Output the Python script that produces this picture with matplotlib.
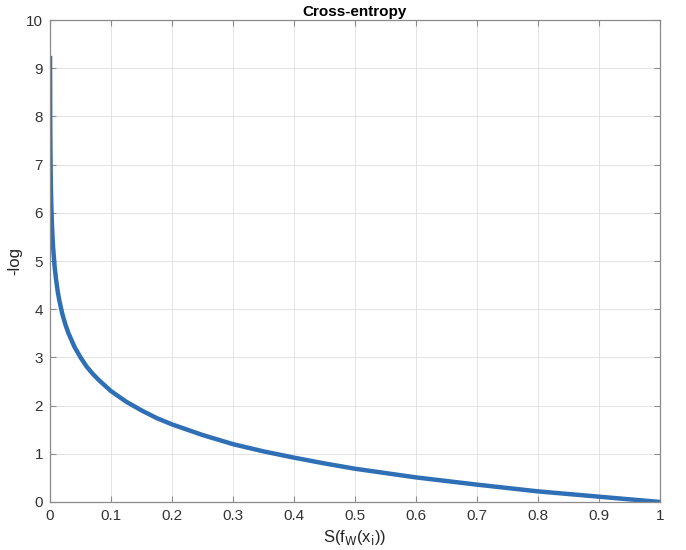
import matplotlib.pyplot as plt

plt.rcParams["font.family"] = ["Liberation Sans", "DejaVu Sans"]

# points
s_vals = [0.0001, 0.0003, 0.0005, 0.001, 0.0015, 0.002, 0.003, 0.004, 0.005,
          0.0075, 0.01, 0.0125, 0.015, 0.02, 0.025, 0.03, 0.04, 0.05, 0.06,
          0.07, 0.08, 0.1, 0.125, 0.15, 0.175, 0.2, 0.25, 0.3, 0.35, 0.4,
          0.45, 0.5, 0.6, 0.7, 0.8, 0.9, 1.0]
loss_vals = [9.21, 8.11, 7.60, 6.91, 6.50, 6.21, 5.81, 5.52, 5.30,
             4.89, 4.61, 4.38, 4.20, 3.91, 3.69, 3.51, 3.22, 3.00, 2.81,
             2.66, 2.53, 2.30, 2.08, 1.90, 1.74, 1.61, 1.39, 1.20, 1.05, 0.92,
             0.80, 0.69, 0.51, 0.36, 0.22, 0.11, 0.0]
x_ticks = [0, 0.1, 0.2, 0.3, 0.4, 0.5, 0.6, 0.7, 0.8, 0.9, 1]
x_ticklabels = ["0", "0.1", "0.2", "0.3", "0.4", "0.5", "0.6", "0.7", "0.8", "0.9", "1"]
y_ticks = list(range(0, 11))

fig = plt.figure(figsize=(6.86, 5.5), dpi=100)
ax = fig.add_axes([0.0729, 0.0873, 0.8892, 0.8763])

ax.plot(s_vals, loss_vals, color="#2f6fb5", linewidth=3.2, solid_capstyle="projecting")

ax.set_xlim(0, 1)
ax.set_ylim(0, 10)
ax.set_xticks(x_ticks)
ax.set_xticklabels(x_ticklabels)
ax.set_yticks(y_ticks)
ax.grid(True, color="#e3e3e3", linewidth=0.7)
ax.set_axisbelow(True)
for sp in ax.spines.values():
    sp.set_color("#8a8a8a")
    sp.set_linewidth(0.9)
ax.tick_params(direction="in", top=True, right=True, length=4, width=0.8,
               color="#8a8a8a", labelsize=11, labelcolor="#333333", pad=5)

ax.set_title("Cross-entropy", fontsize=11, fontweight="bold", pad=3)
ax.set_ylabel("-log", fontsize=12, color="#262626")
ax.yaxis.set_label_coords(-0.046, 0.5)
ax.set_xlabel(r"S(f$_{\mathrm{W}}$(x$_{\mathrm{i}}$))", fontsize=12, color="#262626")
ax.xaxis.set_label_coords(0.5, -0.054)

fig.savefig("out.png", dpi=100)
